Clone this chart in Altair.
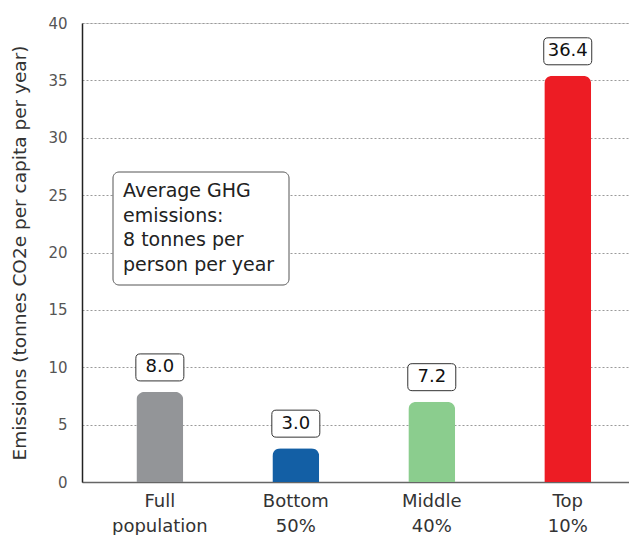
import altair as alt
import pandas as pd

groups = ["Full population", "Bottom 50%", "Middle 40%", "Top 10%"]
bar_values = [7.85, 2.95, 7.0, 35.4]
label_texts = ["8.0", "3.0", "7.2", "36.4"]
colors = ["#939598", "#135fa5", "#8bcd8e", "#ed1c24"]
y_ticks = [0, 5, 10, 15, 20, 25, 30, 35, 40]
note_text = "Average GHG\nemissions:\n8 tonnes per\nperson per year"
y_title = "Emissions (tonnes CO2e per capita per year)"

FONT = "DejaVu Sans"

df = pd.DataFrame({"group": groups, "value": bar_values, "label": label_texts})
note_df = pd.DataFrame({"t": [note_text]})

x_enc = alt.X(
    "group:N",
    sort=groups,
    title=None,
    scale=alt.Scale(paddingInner=0.655, paddingOuter=0.339, align=0.59),
    axis=alt.Axis(
        labelExpr="split(datum.value, ' ')",
        labelAngle=0,
        ticks=False,
        labelFontSize=18,
        labelColor="#333333",
        labelLineHeight=25,
        labelPadding=10,
        domainColor="#666666",
        domainWidth=1.5,
        labelFont=FONT,
    ),
)
y_enc = alt.Y(
    "value:Q",
    title=y_title,
    scale=alt.Scale(domain=[0, 40], nice=False),
    axis=alt.Axis(
        values=y_ticks,
        ticks=False,
        labelPadding=15,
        labelFontSize=15,
        labelColor="#555555",
        labelFont=FONT,
        grid=True,
        gridDash=[2, 2],
        gridColor="#9a9a9a",
        gridWidth=1,
        domainColor="#222222",
        domainWidth=1.5,
        titleFontSize=18.5,
        titleFont=FONT,
        titleFontWeight="normal",
        titleColor="#333333",
        titlePadding=18,
    ),
)

bars = alt.Chart(df).mark_bar(cornerRadiusTopLeft=8, cornerRadiusTopRight=8).encode(
    x=x_enc,
    y=y_enc,
    color=alt.Color("group:N", scale=alt.Scale(domain=groups, range=colors), legend=None),
)

box_path = (
    "M -0.82,-0.5625 L 0.82,-0.5625 Q 1,-0.5625 1,-0.3825 L 1,0.3825 "
    "Q 1,0.5625 0.82,0.5625 L -0.82,0.5625 Q -1,0.5625 -1,0.3825 "
    "L -1,-0.3825 Q -1,-0.5625 -0.82,-0.5625 Z"
)

label_boxes = alt.Chart(df).mark_point(
    shape=box_path, size=2304, filled=True, fill="white", stroke="#333333",
    strokeWidth=1, opacity=1, yOffset=-24.5,
).encode(x=alt.X("group:N", sort=groups), y="value:Q")

label_text = alt.Chart(df).mark_text(
    yOffset=-24.5, baseline="middle", align="center", fontSize=18, font=FONT, color="#111111",
).encode(x=alt.X("group:N", sort=groups), y="value:Q", text="label:N")

note_box = alt.Chart(note_df).mark_rect(
    fill="white", stroke="#555555", strokeWidth=1, cornerRadius=6,
).encode(x=alt.value(31), x2=alt.value(207), y=alt.value(149), y2=alt.value(262))

note = alt.Chart(note_df).mark_text(
    align="left", baseline="alphabetic", lineBreak="\n", lineHeight=24.7,
    fontSize=19, font=FONT, color="#222222",
).encode(x=alt.value(41), y=alt.value(174), text="t:N")

chart = alt.layer(bars, note_box, note, label_boxes, label_text).properties(
    width=547, height=459,
    padding={"left": 2, "top": 8, "right": 0, "bottom": 0},
).configure_view(stroke=None).configure(font=FONT)

chart.save("out.html", embed_options={"renderer": "svg", "actions": False})
